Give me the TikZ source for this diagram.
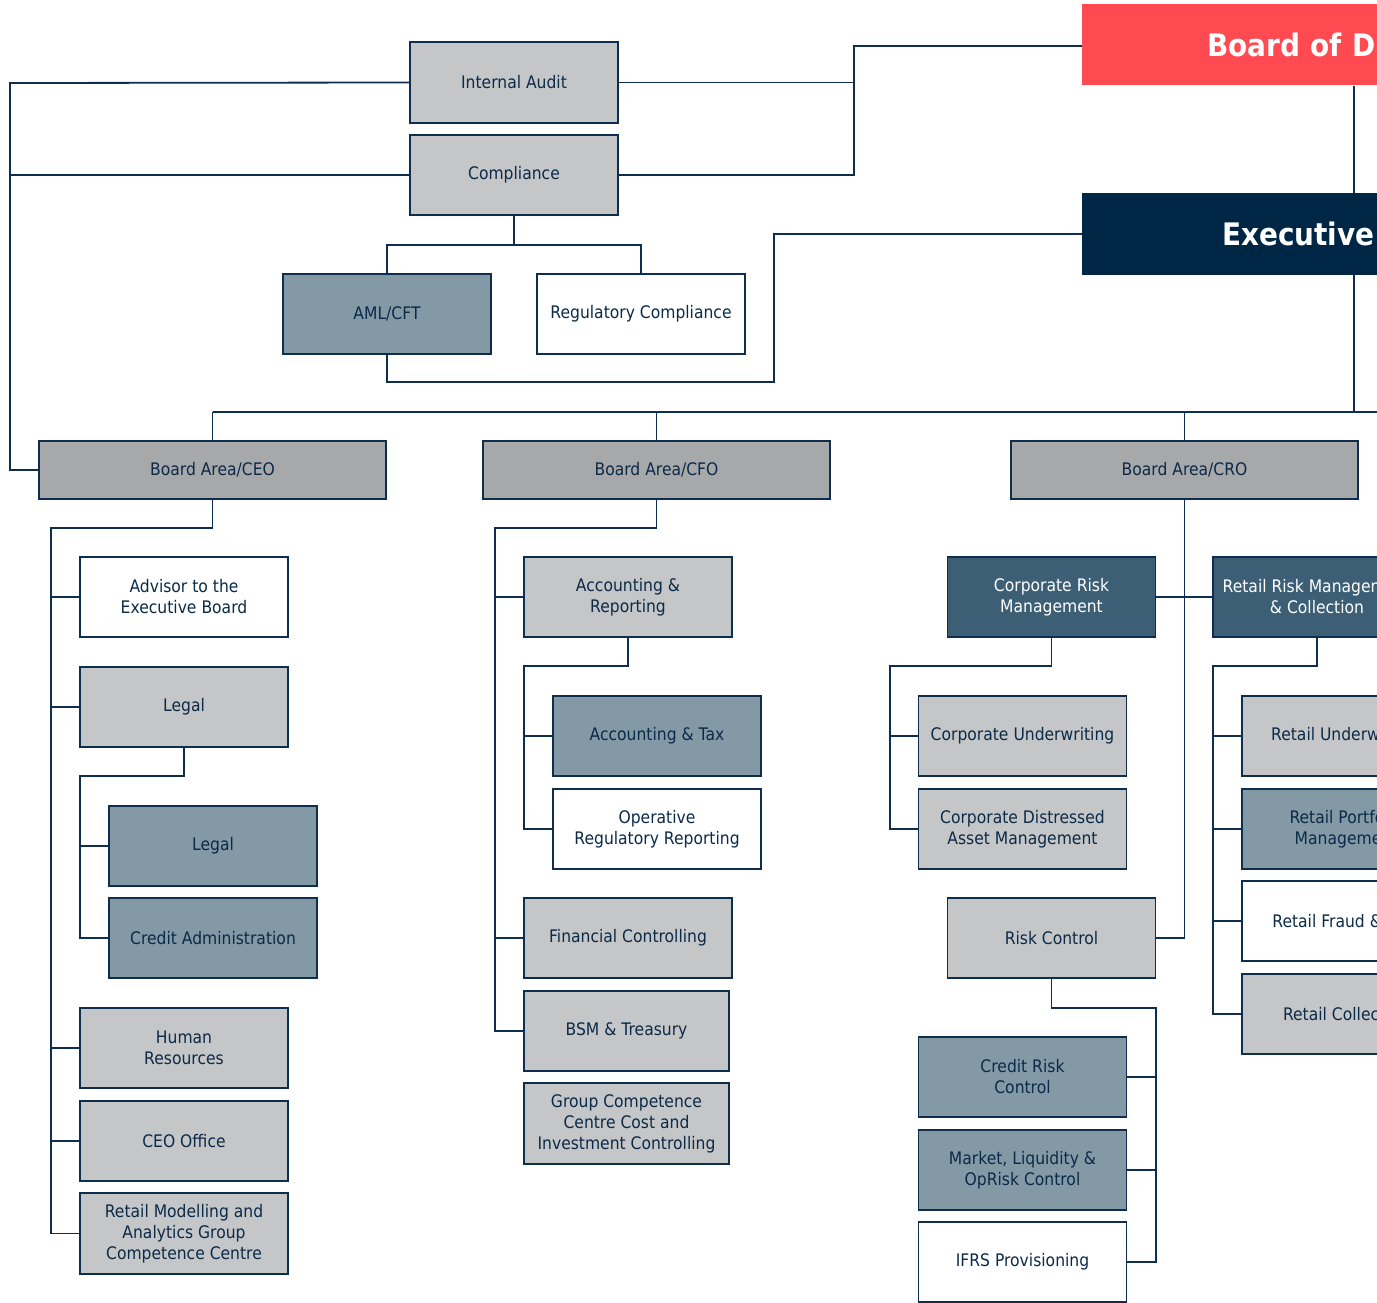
\documentclass[tikz,border=0pt]{standalone}
\usepackage{fontspec}
\setmainfont{DejaVu Sans}[FakeStretch=0.9]
\definecolor{lc}{HTML}{0F2E4E}
\definecolor{tc}{HTML}{0B2A48}
\definecolor{lgray}{HTML}{C5C6C8}
\definecolor{agray}{HTML}{A7A8AA}
\definecolor{bgray}{HTML}{8399A5}
\definecolor{dblue}{HTML}{3C5F76}
\definecolor{navy}{HTML}{002645}
\definecolor{bred}{HTML}{FF4A52}
\tikzset{
  x=1pt, y=-1pt,
  conn/.style={draw=lc, line width=1.8pt},
  box/.style={draw=lc, line width=1.8pt, minimum width=208pt, minimum height=80pt, inner sep=0pt, align=center, text=tc, font=\fontsize{17.3}{21}\selectfont},
  gbox/.style={box, fill=lgray},
  bbox/.style={box, fill=bgray},
  wbox/.style={box, fill=white},
  dbox/.style={box, fill=dblue, text=white},
  abox/.style={box, fill=agray, minimum width=347pt, minimum height=58pt},
  topbox/.style={draw=none, anchor=west, minimum height=81pt, inner ysep=0pt, inner xsep=0pt, text width=600pt, align=left, font=\fontsize{31}{38}\selectfont\bfseries, text=white},
}
\begin{document}
\begin{tikzpicture}
\path[use as bounding box] (0,0) rectangle (1377,1303);
\clip (0,0) rectangle (1377,1303);
\fill[white] (0,0) rectangle (1377,1303);

% top boxes
\node[topbox, fill=bred] (bod) at (1082,45) {\hspace*{125pt}Board of Directors};
\node[topbox, fill=navy] (exec) at (1082,234) {\hspace*{140pt}Executive Board};

\node[gbox, minimum height=81pt] (ia) at (514,82.5) {Internal Audit};
\node[gbox] (comp) at (514,175) {Compliance};
\node[bbox] (aml) at (387,314) {AML/CFT};
\node[wbox] (reg) at (641,314) {Regulatory Compliance};

\node[abox] (ceo) at (212.5,470) {Board Area/CEO};
\node[abox] (cfo) at (656.5,470) {Board Area/CFO};
\node[abox] (cro) at (1184.5,470) {Board Area/CRO};

% CEO column
\node[wbox] (adv) at (184,597) {Advisor to the\\Executive Board};
\node[gbox] (legA) at (184,707) {Legal};
\node[bbox] (legB) at (213,846) {Legal};
\node[bbox] (cadm) at (213,938) {Credit Administration};
\node[gbox] (hr) at (184,1048) {Human\\Resources};
\node[gbox] (ceoo) at (184,1141) {CEO Office};
\node[gbox, minimum height=81pt] (rmag) at (184,1233.5) {Retail Modelling and\\Analytics Group\\Competence Centre};

% CFO column
\node[gbox] (accr) at (628,597) {Accounting \&\\Reporting};
\node[bbox] (acct) at (657,736) {Accounting \& Tax};
\node[wbox] (orr) at (657,829) {Operative\\Regulatory Reporting};
\node[gbox] (finc) at (628,938) {Financial Controlling};
\node[gbox, minimum width=205pt] (bsm) at (626.5,1031) {BSM \& Treasury};
\node[gbox, minimum width=205pt, minimum height=81pt] (gcc) at (626.5,1123.5) {Group Competence\\Centre Cost and\\Investment Controlling};

% CRO column
\node[dbox] (crm) at (1051.5,597) {Corporate Risk\\Management};
\node[gbox] (cuw) at (1022.5,736) {Corporate Underwriting};
\node[gbox] (cdam) at (1022.5,829) {Corporate Distressed\\Asset Management};
\node[gbox] (rc) at (1051.5,938) {Risk Control};
\node[bbox] (crc) at (1022.5,1077) {Credit Risk\\Control};
\node[bbox] (mlo) at (1022.5,1170) {Market, Liquidity \&\\OpRisk Control};
\node[wbox] (ifrs) at (1022.5,1262) {IFRS Provisioning};

% Retail column
\node[dbox] (rrm) at (1317,597) {Retail Risk Management\\\& Collection};
\node[gbox] (rund) at (1346,736) {Retail Underwriting};
\node[bbox] (rport) at (1346,829) {Retail Portfolio\\Management};
\node[wbox] (rfr) at (1346,921) {Retail Fraud \& AML};
\node[gbox] (rcol) at (1346,1014) {Retail Collection};

% coordinates
\coordinate (L1) at (10,83);
\coordinate (R1) at (854,46);
\coordinate (V) at (1354,0);
\coordinate (B) at (0,412);
\coordinate (Bend) at (1380,412);
\coordinate (E2) at (774,382);
\coordinate (c1) at (51,528);
\coordinate (c2) at (80,776);
\coordinate (f1) at (495,528);
\coordinate (f2) at (524,666);
\coordinate (k1) at (890,666);
\coordinate (k2) at (1156,1008);
\coordinate (k3) at (1213,666);

% top connectors
\draw[conn] (ia.west) -- (L1) |- (ceo.west);
\draw[conn] (comp.west) -- (comp.west -| L1);
\draw[conn] (ia.east) -| (R1) -- (R1 -| bod.west);
\draw[conn] (comp.east) -| (R1);
\draw[conn] (V |- bod.south) -- (V |- exec.north);
\draw[conn] (V |- exec.south) -- (V |- B);
\draw[conn] (ceo.north |- B) -- (Bend);
\draw[conn] (ceo.north |- B) -- (ceo.north);
\draw[conn] (cfo.north |- B) -- (cfo.north);
\draw[conn] (cro.north |- B) -- (cro.north);
\draw[conn] (comp.south) -- ++(0,29) -| (aml.north);
\draw[conn] (comp.south) -- ++(0,29) -| (reg.north);
\draw[conn] (aml.south) |- (E2) |- (exec.west);

% CEO tree
\draw[conn] (ceo.south) |- (c1) |- (rmag.west);
\draw[conn] (adv.west) -- (adv.west -| c1);
\draw[conn] (legA.west) -- (legA.west -| c1);
\draw[conn] (hr.west) -- (hr.west -| c1);
\draw[conn] (ceoo.west) -- (ceoo.west -| c1);
\draw[conn] (legA.south) |- (c2) |- (cadm.west);
\draw[conn] (legB.west) -- (legB.west -| c2);

% CFO tree
\draw[conn] (cfo.south) |- (f1) |- (bsm.west);
\draw[conn] (accr.west) -- (accr.west -| f1);
\draw[conn] (finc.west) -- (finc.west -| f1);
\draw[conn] (accr.south) |- (f2) |- (orr.west);
\draw[conn] (acct.west) -- (acct.west -| f2);

% CRO tree
\draw[conn] (cro.south) |- (rc.east);
\draw[conn] (crm.east) -- (rrm.west);
\draw[conn] (crm.south) |- (k1) |- (cdam.west);
\draw[conn] (cuw.west) -- (cuw.west -| k1);
\draw[conn] (rc.south) |- (k2) |- (ifrs.east);
\draw[conn] (crc.east) -- (crc.east -| k2);
\draw[conn] (mlo.east) -- (mlo.east -| k2);
\draw[conn] (rrm.south) |- (k3) |- (rcol.west);
\draw[conn] (rund.west) -- (rund.west -| k3);
\draw[conn] (rport.west) -- (rport.west -| k3);
\draw[conn] (rfr.west) -- (rfr.west -| k3);
\end{tikzpicture}
\end{document}
